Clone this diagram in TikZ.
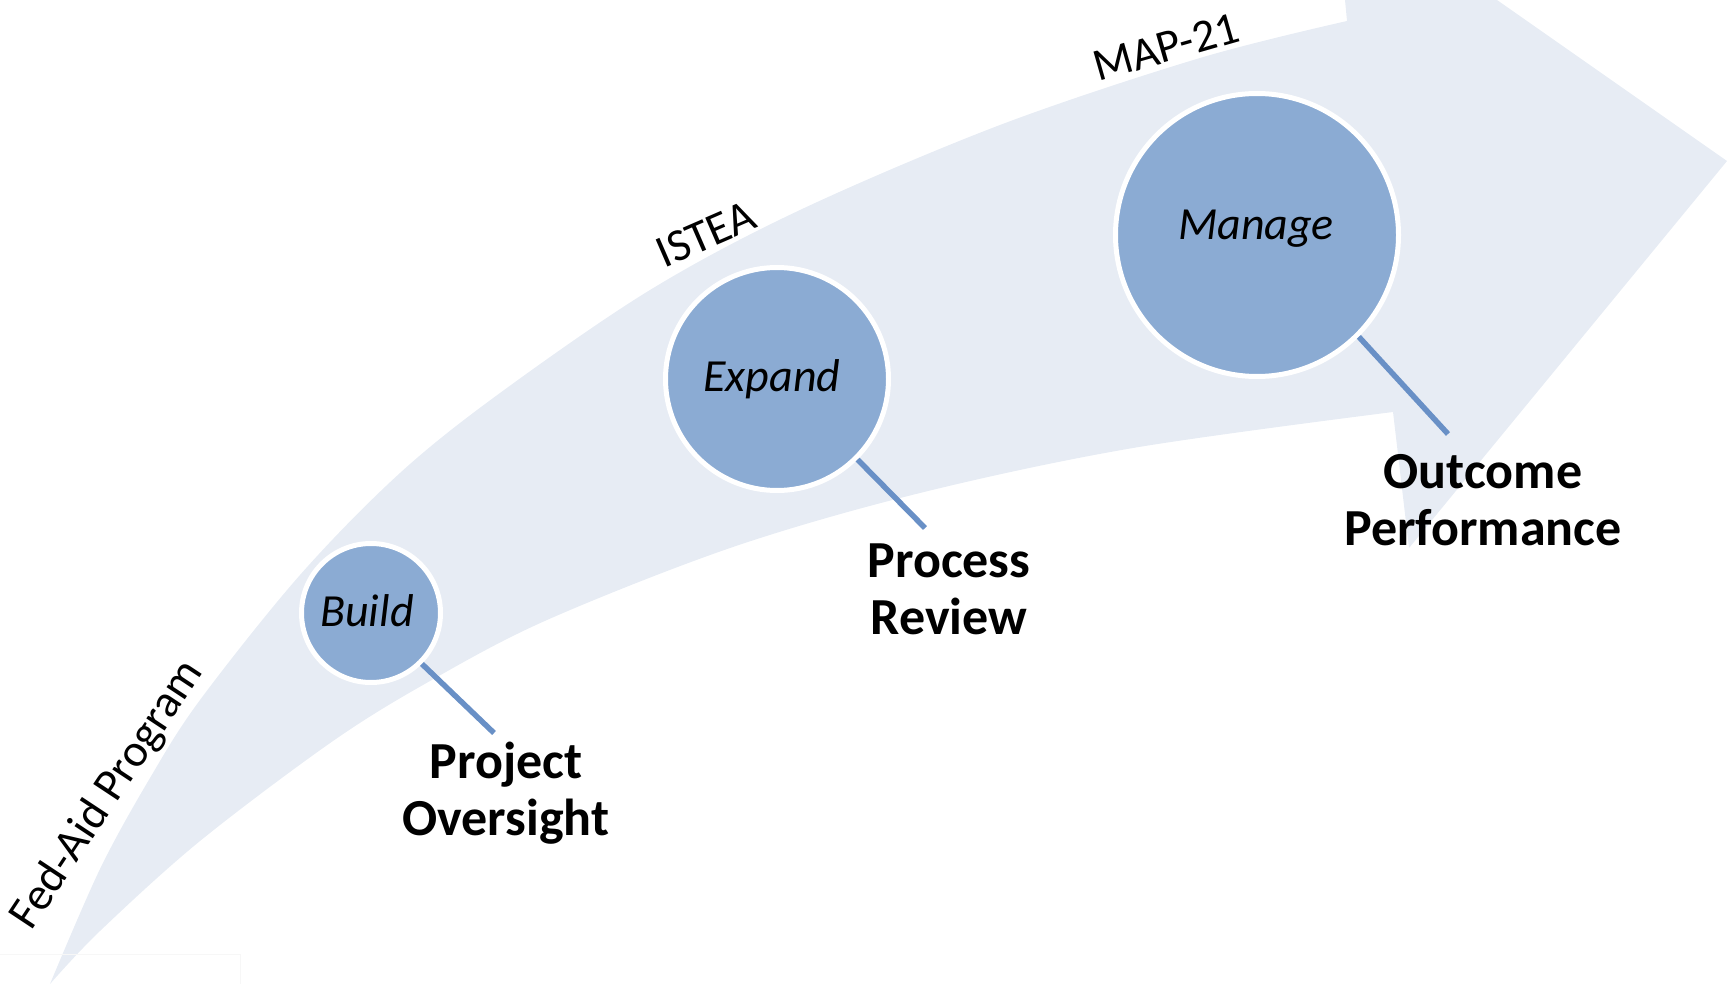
\documentclass[tikz,border=0pt]{standalone}
\usepackage{fontspec}
\setmainfont{Carlito}
\definecolor{arrowfill}{HTML}{E7ECF4}
\definecolor{circfill}{HTML}{8BABD3}
\definecolor{linkcol}{HTML}{6990C6}
\begin{document}
\begin{tikzpicture}[x=1pt,y=-1pt,
  circ/.style={circle,fill=circfill,draw=white,line width=5pt,inner sep=0pt},
  ctext/.style={inner sep=0pt,font=\fontsize{46}{55}\selectfont\itshape},
  era/.style={inner sep=0pt,font=\fontsize{46}{55}\selectfont},
  outcome/.style={inner sep=0pt,align=center,font=\fontsize{52}{57}\selectfont\bfseries},
  link/.style={draw=linkcol,line width=5.5pt}]
\useasboundingbox (0,0) rectangle (1729,984);
\begin{scope}
\clip (0,0) rectangle (1729,984);
% big curved arrow
\fill[arrowfill] plot[smooth,tension=0.55] coordinates {(50,984) (100,869) (150,778) (200,700) (300,575) (400,473) (500,393) (650,290) (800,210) (1000,125) (1200,58) (1347,21)}
  -- (1345,0) -- (1497,0) -- (1727,161) -- (1409,548) -- (1393,412)
  -- plot[smooth,tension=0.55] coordinates {(1393,412) (1133,448) (920,493) (733,547) (547,620) (430,681) (333,741) (200,841) (100,931) (50,984)} -- cycle;
\draw[gray!6,line width=1pt] (0,954) -- (240,954) -- (240,984);
\end{scope}
% circles
\node[circ,minimum size=139pt] (build) at (371,613) {};
\node[circ,minimum size=223pt] (expand) at (777,379) {};
\node[circ,minimum size=283pt] (manage) at (1257,235) {};
\node[ctext,anchor=base] (buildt) at (367,626) {Build};
\node[ctext,anchor=base] (expandt) at (772,391) {Expand};
\node[ctext,anchor=base] (managet) at (1256,240) {Manage};
% connectors
\coordinate (poend) at (494,733);
\coordinate (prend) at (925,528);
\coordinate (opend) at (1448,434);
\draw[link] (build.-45) -- (poend);
\draw[link] (expand.-45) -- (prend);
\draw[link] (manage.-45) -- (opend);
% outcome labels (base = baseline of the last line)
\node[outcome,anchor=base] (po) at (506,835) {Project\\Oversight};
\node[outcome,anchor=base] (pr) at (949,634) {Process\\Review};
\node[outcome,anchor=base] (op) at (1483,545) {Outcome\\Performance};
% era labels
\node[era,rotate=56.5] (fed) at (108,795) {Fed-Aid Program};
\node[era,rotate=23.5] (istea) at (706,234) {ISTEA};
\node[era,rotate=16] (map) at (1166,47) {MAP-21};
\end{tikzpicture}
\end{document}
